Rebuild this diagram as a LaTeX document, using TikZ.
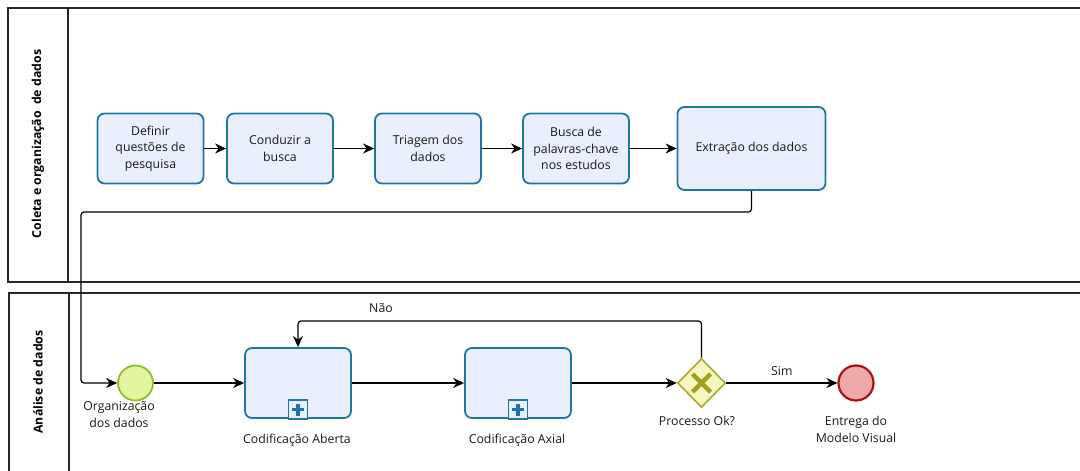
\documentclass[tikz,border=0pt]{standalone}
\usepackage{fontspec}
\setmainfont{Open Sans}
\usetikzlibrary{arrows.meta,shapes.geometric}

\definecolor{taskfill}{RGB}{233,239,252}
\definecolor{taskline}{RGB}{30,118,163}
\definecolor{startfill}{RGB}{228,245,160}
\definecolor{startline}{RGB}{140,192,40}
\definecolor{gwfill}{RGB}{246,246,192}
\definecolor{gwline}{RGB}{170,170,50}
\definecolor{gwmark}{RGB}{160,160,30}
\definecolor{endfill}{RGB}{238,170,170}
\definecolor{endline}{RGB}{165,20,20}
\definecolor{poolline}{RGB}{40,40,40}

\tikzset{
  txt/.style={font=\fontsize{12.3}{16.7}\selectfont, text=black!90},
  task/.style={txt, draw=taskline, fill=taskfill, line width=1.8pt,
    rounded corners=7pt, minimum width=106pt, minimum height=70pt,
    align=center, inner sep=2pt},
  subproc/.style={task},
  startev/.style={circle, draw=startline, fill=startfill, line width=1.8pt,
    minimum size=35pt, inner sep=0pt},
  endev/.style={circle, draw=endline, fill=endfill, line width=2.2pt,
    minimum size=35pt, inner sep=0pt},
  gateway/.style={diamond, draw=gwline, fill=gwfill, line width=1.6pt,
    minimum width=48pt, minimum height=49pt, inner sep=0pt},
  flow/.style={draw=black, line width=1.2pt, rounded corners=3pt,
    -{Stealth[length=11pt,width=10pt,inset=3.5pt]}},
  pool/.style={draw=poolline, line width=1.4pt},
  lanehead/.style={font=\fontsize{12.3}{14}\selectfont\bfseries, rotate=90},
  caption/.style={txt, align=center},
}

\begin{document}
\begin{tikzpicture}[x=1pt,y=-1pt]
\useasboundingbox (0,0) rectangle (1080,471);

% pools and lane headers
\draw[pool] (1081,8) -- (8,8) -- (8,282) -- (1081,282);
\draw[pool] (68,8) -- (68,282);
\draw[pool] (1081,293) -- (9,293) -- (9,472);
\draw[pool] (69,293) -- (69,472);
\node[lanehead] (laneA) at (38,144) {Coleta e organização\ \ de dados};
\node[lanehead] (laneB) at (38,382) {Análise de dados};

% data collection tasks
\node[task] (def)  at (150.5,148.5) {Definir\\questões de\\pesquisa};
\node[task] (cond) at (280,148.5) {Conduzir a\\busca};
\node[task] (tri)  at (428,148.5) {Triagem dos\\dados};
\node[task] (bus)  at (576,148.5) {Busca de\\palavras-chave\\nos estudos};
\node[task, minimum width=148pt, minimum height=83pt] (ext) at (751.5,148.5) {Extração dos dados};

\draw[flow] (def) -- (cond);
\draw[flow] (cond) -- (tri);
\draw[flow] (tri) -- (bus);
\draw[flow] (bus) -- (ext);

% analysis lane
\node[startev] (start) at (135.5,383) {};
\node[caption, anchor=north] (startlbl) at (119,398) {Organização\\dos dados};

\node[subproc] (abe) at (298,383) {};
\node[subproc] (axi) at (518,383) {};
\foreach \b in {abe,axi}{
  \node[draw=taskline, fill=taskfill, line width=1.6pt, minimum size=19pt,
        inner sep=0pt, anchor=south] (\b plus) at ([yshift=-0.9pt]\b.south) {};
  \fill[taskline] ([xshift=-1.6pt,yshift=-6pt]\b plus.center) rectangle ([xshift=1.6pt,yshift=6pt]\b plus.center);
  \fill[taskline] ([xshift=-6pt,yshift=-1.6pt]\b plus.center) rectangle ([xshift=6pt,yshift=1.6pt]\b plus.center);
}
\node[caption] (abelbl) at (297,440) {Codificação Aberta};
\node[caption] (axilbl) at (517,440) {Codificação Axial};

\node[gateway] (gw) at (701.5,383) {};
\draw[gwmark, line width=4.5pt] ([xshift=-9pt,yshift=-9pt]gw.center) -- ([xshift=9pt,yshift=9pt]gw.center)
      ([xshift=-9pt,yshift=9pt]gw.center) -- ([xshift=9pt,yshift=-9pt]gw.center);
\node[caption] (gwlbl) at (697,421) {Processo Ok?};

\node[endev] (fin) at (856,383) {};
\node[caption, anchor=north] (finlbl) at (856,413) {Entrega do\\Modelo Visual};

% sequence flows
\coordinate (down) at (81,212);
\draw[flow] (ext.south) |- (down) |- (start.west);
\draw[flow] (start) -- (abe);
\draw[flow] (abe) -- (axi);
\draw[flow] (axi) -- (gw);
\draw[flow] (gw) -- node[caption, above=3pt] (sim) {Sim} (fin);
\coordinate (back) at (500,321);
\draw[flow] (gw.north) |- (back) -| (abe.north);
\node[caption] (nao) at (381,308) {Não};
\end{tikzpicture}
\end{document}
